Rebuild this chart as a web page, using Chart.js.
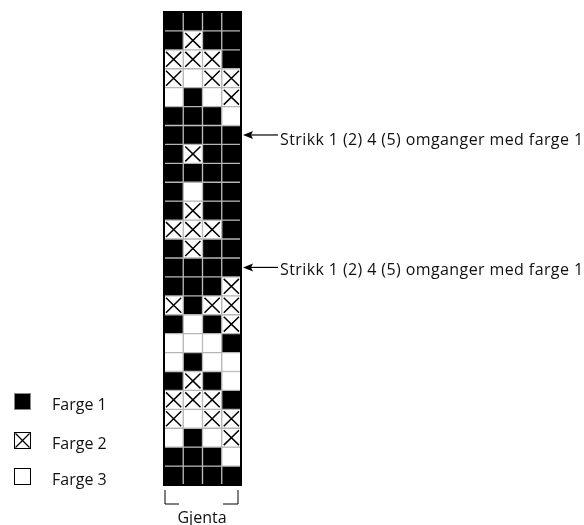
<!DOCTYPE html>
<html>
<head>
<meta charset="utf-8">
<script src="https://cdn.jsdelivr.net/npm/chart.js@4"></script>
<style>
  body { margin: 0; background: #fff; font-family: "Open Sans", sans-serif; font-size: 16px; color: #111; }
  #wrap { position: relative; width: 584px; height: 525px; }
  .lbl { position: absolute; line-height: 20px; white-space: nowrap; }
  .note { letter-spacing: 0.4px; }
  .sw { position: absolute; left: 14px; }
</style>
</head>
<body>
<div id="wrap">
  <canvas id="chart" width="584" height="525"></canvas>
</div>
<script>
// 1 = farge 1 (svart), 2 = farge 2 (kryss), 3 = farge 3 (hvit)
// rader fra toppen og ned
const columns = ["1", "2", "3", "4"];
const rows = [
  [1, 1, 1, 1],
  [1, 2, 1, 1],
  [2, 2, 2, 1],
  [2, 3, 2, 2],
  [3, 1, 3, 2],
  [1, 1, 1, 3],
  [1, 1, 1, 1],
  [1, 2, 1, 1],
  [1, 1, 1, 1],
  [1, 3, 1, 1],
  [1, 2, 1, 1],
  [2, 2, 2, 1],
  [1, 2, 1, 1],
  [1, 1, 1, 1],
  [1, 1, 1, 2],
  [2, 1, 2, 2],
  [1, 3, 1, 2],
  [3, 3, 3, 1],
  [3, 1, 3, 3],
  [1, 2, 1, 3],
  [2, 2, 2, 1],
  [2, 3, 2, 2],
  [3, 1, 3, 2],
  [1, 1, 1, 3],
  [1, 1, 1, 1]
];
const noteRows = [6, 13];
const noteText = "Strikk 1 (2) 4 (5) omganger med farge 1";
const legendLabels = ["Farge 1", "Farge 2", "Farge 3"];
const repeatLabel = "Gjenta";

const datasets = rows.map((r, i) => ({
  label: "rad " + (i + 1),
  data: r.map(() => 1),
  backgroundColor: r.map(c => c === 1 ? "#000" : "#fff"),
  borderColor: "#b5b5b5",
  borderWidth: 1,
  borderSkipped: false,
  barPercentage: 1,
  categoryPercentage: 1
}));

const extras = {
  id: "extras",
  afterDatasetsDraw(chart) {
    const ctx = chart.ctx;
    const a = chart.chartArea;
    ctx.save();
    // kryss
    ctx.strokeStyle = "#000";
    ctx.lineWidth = 1.5;
    chart.data.datasets.forEach((ds, i) => {
      chart.getDatasetMeta(i).data.forEach((bar, j) => {
        if (rows[i][j] !== 2) return;
        const p = bar.getProps(["x", "y", "base", "width"], true);
        const x0 = p.x - p.width / 2 + 2, x1 = p.x + p.width / 2 - 2;
        const y0 = Math.min(p.y, p.base) + 2, y1 = Math.max(p.y, p.base) - 2;
        ctx.beginPath();
        ctx.moveTo(x0, y0); ctx.lineTo(x1, y1);
        ctx.moveTo(x1, y0); ctx.lineTo(x0, y1);
        ctx.stroke();
      });
    });
    // ramme
    ctx.lineWidth = 2;
    ctx.strokeRect(a.left, a.top, a.right - a.left, a.bottom - a.top);
    // piler
    const ys = chart.scales.y;
    ctx.lineWidth = 1.2;
    noteRows.forEach(r => {
      const y = ys.getPixelForValue(r + 0.5);
      const tip = a.right + 2;
      ctx.beginPath();
      ctx.moveTo(tip + 6, y); ctx.lineTo(tip + 35, y);
      ctx.stroke();
      ctx.beginPath();
      ctx.moveTo(tip, y); ctx.lineTo(tip + 10, y - 4); ctx.lineTo(tip + 8, y); ctx.lineTo(tip + 10, y + 4);
      ctx.closePath();
      ctx.fill();
    });
    // gjenta-klamme
    const top = a.bottom + 5, bot = a.bottom + 19;
    const l = a.left + 1, rr = a.right - 3;
    ctx.lineWidth = 1;
    ctx.beginPath();
    ctx.moveTo(l, top); ctx.lineTo(l, bot); ctx.lineTo(l + 14, bot);
    ctx.moveTo(rr - 15, bot); ctx.lineTo(rr, bot); ctx.lineTo(rr, top);
    ctx.stroke();
    ctx.restore();
  }
};

new Chart(document.getElementById("chart"), {
  type: "bar",
  data: { labels: columns, datasets },
  options: {
    responsive: false,
    animation: false,
    layout: { padding: { left: 164, right: 343, top: 12, bottom: 40 } },
    plugins: { legend: { display: false }, tooltip: { enabled: false } },
    scales: {
      x: { stacked: true, display: false },
      y: { stacked: true, display: false, min: 0, max: rows.length, reverse: true }
    }
  },
  plugins: [extras]
});

// tekst
const wrap = document.getElementById("wrap");
function addLabel(text, left, top, cls, extra) {
  const d = document.createElement("div");
  d.className = "lbl" + (cls ? " " + cls : "");
  d.textContent = text;
  d.style.left = left + "px";
  d.style.top = top + "px";
  if (extra) Object.assign(d.style, extra);
  wrap.appendChild(d);
}
[128.5, 258.5].forEach(t => addLabel(noteText, 280, t, "note"));
addLabel(repeatLabel, 152, 506.5, "", { width: "100px", textAlign: "center" });

const legendTops = [393.5, 432.5, 468.5];
const swatches = [
  '<rect x="0.5" y="0.5" width="16" height="16" fill="#000" stroke="#888"/>',
  '<rect x="0.5" y="0.5" width="16" height="16" fill="#fff" stroke="#000"/><path d="M1.5 1.5L15.5 15.5M15.5 1.5L1.5 15.5" stroke="#000" stroke-width="1.3"/>',
  '<rect x="0.5" y="0.5" width="16" height="16" fill="#fff" stroke="#000"/>'
];
legendLabels.forEach((t, i) => {
  addLabel(t, 52, legendTops[i]);
  const s = document.createElement("div");
  s.className = "sw";
  s.style.top = (legendTops[i] - 1) + "px";
  s.innerHTML = '<svg width="17" height="17" viewBox="0 0 17 17">' + swatches[i] + '</svg>';
  wrap.appendChild(s);
});
</script>
</body>
</html>
